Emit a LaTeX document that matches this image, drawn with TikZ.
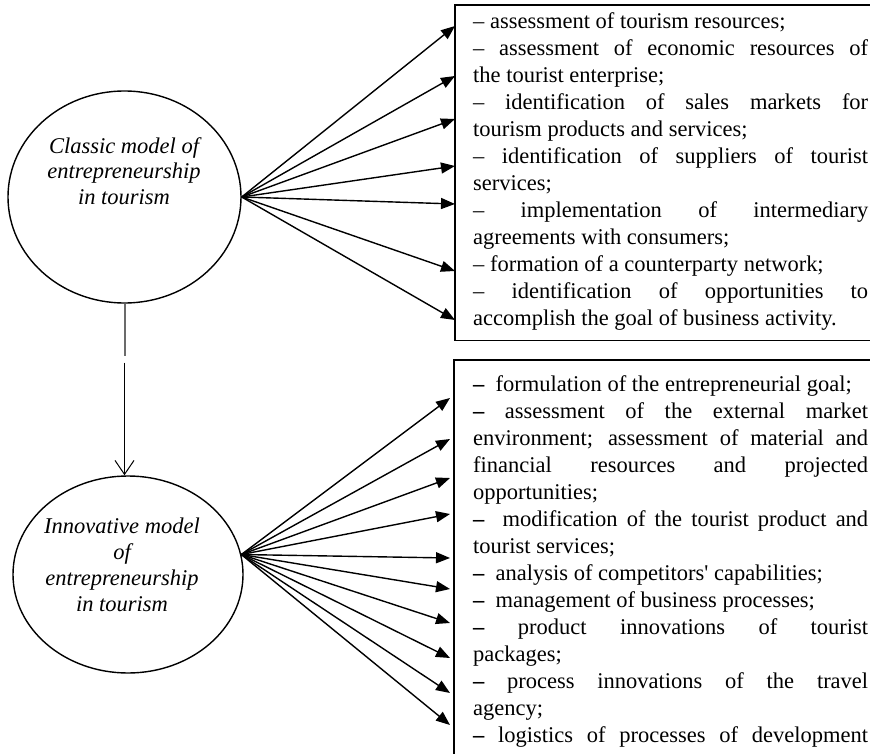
\documentclass[tikz,border=0pt]{standalone}
\usepackage{fontspec}
\setmainfont{Liberation Serif}
\usetikzlibrary{arrows.meta,shapes.geometric}
\setlength{\parindent}{0pt}
\setlength{\parskip}{0pt}
\begin{document}
\begin{tikzpicture}[x=1pt,y=-1pt,
  model/.style={draw, ellipse, line width=1.4pt, inner sep=0pt},
  modeltext/.style={align=center, inner sep=0pt, anchor=north,
    font=\fontsize{22.5}{25.8}\selectfont\itshape},
  listbox/.style={anchor=north west, inner sep=0pt},
  frame/.style={line width=1.8pt},
  listtext/.style={anchor=north west, inner sep=0pt, text width=395pt, align=justify,
    font=\fontsize{22.5}{27}\selectfont},
  fan/.style={line width=1.4pt, -{Triangle[length=14pt,width=11pt]}},
]
\useasboundingbox (0,0) rectangle (870,754);

% the two models
\node[model, minimum width=233pt, minimum height=212pt] (e1) at (124.5,197) {};
\node[model, minimum width=230pt, minimum height=197pt] (e2) at (128,574.5) {};
\node[modeltext] (t1) at (124,137) {Classic model of\\entrepreneurship\\in tourism};
\node[modeltext] (t2) at (122,518) {Innovative model\\of\\entrepreneurship\\in tourism};

% frames of the two lists; they run on past the right and lower edges
\node[listbox, minimum width=520pt, minimum height=335pt] (box1) at (455,5) {};
\node[listbox, minimum width=520pt, minimum height=460pt] (box2) at (454,360) {};
\draw[frame] (box1.north east) -- (box1.north west) -- (box1.south west) -- (box1.south east);
\draw[frame] (box2.north east) -- (box2.north west) -- (box2.south west);

% list of the classic model
\node[listtext] (list1) at (473,12) {%
\tolerance=10000 \hbadness=10000 \hyphenpenalty=10000
– assessment of tourism resources;\par
– assessment of economic resources of\linebreak the tourist enterprise;\par
– identification of sales markets for\linebreak tourism products and services;\par
– identification of suppliers of tourist\linebreak services;\par
– implementation of intermediary\linebreak agreements with consumers;\par
– formation of a counterparty network;\par
– identification of opportunities to\linebreak accomplish the goal of business activity.};

% list of the innovative model
\node[listtext] (list2) at (473,375) {%
\tolerance=10000 \hbadness=10000 \hyphenpenalty=10000
\textbf{–}\ \ formulation of the entrepreneurial goal;\par
\textbf{–} assessment of the external market\linebreak environment; assessment of material and\linebreak financial resources and projected\linebreak opportunities;\par
\textbf{–}\ \ modification of the tourist product and\linebreak tourist services;\par
\textbf{–}\ \ analysis of competitors\textquotesingle{} capabilities;\par
\textbf{–}\ \ management of business processes;\par
\textbf{–} product innovations of tourist\linebreak packages;\par
\textbf{–} process innovations of the travel\linebreak agency;\par
{\parfillskip=0pt \textbf{–} logistics of processes of development\par}};

% fan of arrows from the classic model
\coordinate (o1) at (e1.east);
\foreach \y [count=\i] in {26,76,119,166,204,271,320} {
  \coordinate (a\i) at (455,\y);
  \draw[fan] (o1) -- (a\i);
}

% fan of arrows from the innovative model
\coordinate (o2) at (e2.10);
\foreach \y [count=\i] in {398,439,478,514,558,589,623,658,693,725} {
  \coordinate (b\i) at (450,\y);
  \draw[fan] (o2) -- (b\i);
}

% transition from the classic to the innovative model
\draw[line width=2pt, draw=black!58] (e1.south) -- ++(0,52) coordinate (g1);
\path (e1.south) ++(0,59) coordinate (g2);
\draw[line width=1pt, -{Straight Barb[length=14pt,width=19pt]}] (g2) -- (e1.south |- e2.north);
\end{tikzpicture}
\end{document}
